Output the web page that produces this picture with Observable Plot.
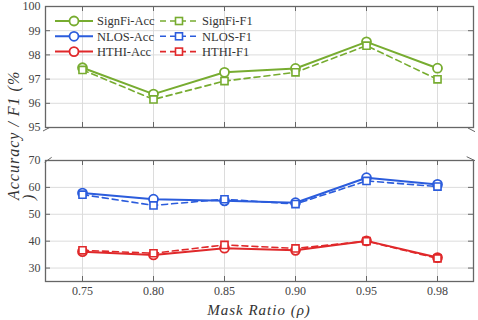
<!DOCTYPE html>
<html><head><meta charset="utf-8">
<script src="https://cdn.jsdelivr.net/npm/d3@7"></script>
<script src="https://cdn.jsdelivr.net/npm/@observablehq/plot@0.6"></script>
<style>
body{margin:0;background:#fff;}
#chart{position:relative;width:478px;height:320px;font-family:"Liberation Serif","DejaVu Serif",serif;}
#chart svg{display:block;}
#chart text{font-family:"Liberation Serif","DejaVu Serif",serif;}
#overlay{position:absolute;left:0;top:0;pointer-events:none;}
</style></head><body><div id="chart"></div>
<script>
const ratios = ["0.75","0.80","0.85","0.90","0.95","0.98"];
const signfiAcc = [97.47,96.38,97.28,97.44,98.54,97.45];
const signfiF1  = [97.38,96.16,96.92,97.28,98.38,96.99];
const nlosAcc   = [57.9,55.6,55.0,54.3,63.6,61.1];
const nlosF1    = [57.3,53.3,55.6,53.8,62.4,60.3];
const hthiAcc   = [36.1,34.9,37.4,36.6,40.1,33.9];
const hthiF1    = [36.6,35.5,38.6,37.3,40.0,33.6];
const groups = ["SignFi","NLOS","HTHI"];
const groupColors = ["#77AC30","#2B5CDC","#E0282A"];
const topTicks = [95,96,97,98,99,100];
const bottomTicks = [30,40,50,60,70];
const xLabel = "Mask Ratio (ρ)";
const yLabel = ["Accuracy / F1 (%", ")"];

const FONT = '"Liberation Serif", "DejaVu Serif", serif';
const color = Object.fromEntries(groups.map((g,i)=>[g,groupColors[i]]));
function rows(group, kind, vals){ return vals.map((v,i)=>({ratio:ratios[i], value:v, group, kind, series:group+"-"+kind})); }
const topData = [...rows("SignFi","Acc",signfiAcc), ...rows("SignFi","F1",signfiF1)];
const botData = [...rows("NLOS","Acc",nlosAcc), ...rows("NLOS","F1",nlosF1), ...rows("HTHI","Acc",hthiAcc), ...rows("HTHI","F1",hthiF1)];

const W = 478, ML = 45, MR = 5;
function panel({data, domain, ticks, height, marginTop, marginBottom, showX}) {
  const innerH = height - marginTop - marginBottom;
  const innerW = W - ML - MR;
  const acc = data.filter(d=>d.kind==="Acc"), f1 = data.filter(d=>d.kind==="F1");
  return Plot.plot({
    width: W, height, marginLeft: ML, marginRight: MR, marginTop, marginBottom,
    style:{fontFamily:FONT, fontSize:"12px", color:"#444", background:"white", overflow:"visible"},
    x:{type:"point", domain:ratios, padding:0.5, label:null, axis: showX ? "bottom" : null, tickSize:0, tickPadding:5},
    y:{domain, ticks, label:null, tickSize:0, tickPadding:5, tickFormat:d=>String(d)},
    marks:[
      Plot.ruleX(ratios, {x:d=>d, stroke:"#dcdcdc", strokeWidth:1}),
      Plot.ruleY(ticks, {y:d=>d, stroke:"#dcdcdc", strokeWidth:1}),
      Plot.tickY(ticks, {y:d=>d, insetRight: innerW-5, stroke:"#666", strokeWidth:1}),
      Plot.tickY(ticks, {y:d=>d, insetLeft: innerW-5, stroke:"#666", strokeWidth:1}),
      Plot.tickX(ratios, {x:d=>d, insetTop: innerH-5, stroke:"#666", strokeWidth:1}),
      Plot.tickX(ratios, {x:d=>d, insetBottom: innerH-5, stroke:"#666", strokeWidth:1}),
      Plot.frame({stroke:"#666", strokeWidth:1.3}),
      Plot.line(acc, {x:"ratio", y:"value", z:"series", stroke:d=>color[d.group], strokeWidth:2}),
      Plot.dot(acc, {x:"ratio", y:"value", symbol:"circle", r:4.5, fill:"white", stroke:d=>color[d.group], strokeWidth:1.8}),
      Plot.line(f1, {x:"ratio", y:"value", z:"series", stroke:d=>color[d.group], strokeWidth:1.6, strokeDasharray:"6,4"}),
      Plot.dot(f1, {x:"ratio", y:"value", symbol:"square", r:4, fill:"white", stroke:d=>color[d.group], strokeWidth:1.6})
    ]
  });
}
const chart = document.getElementById("chart");
const topH = 143, botH = 177;
chart.append(panel({data:topData, domain:[95,100], ticks:topTicks, height:topH, marginTop:6, marginBottom:16, showX:false}));
chart.append(panel({data:botData, domain:[25,70], ticks:bottomTicks, height:botH, marginTop:17, marginBottom:39, showX:true}));

// overlay: legend, axis titles, axis-break marks
const ov = d3.select(chart).append("svg").attr("id","overlay").attr("width",W).attr("height",320)
  .attr("font-family",FONT);
const legendItems = [];
groups.forEach((g,i)=>{ legendItems.push({g, kind:"Acc", row:i, col:0}); legendItems.push({g, kind:"F1", row:i, col:1}); });
legendItems.forEach(it=>{
  const x0 = it.col===0 ? 55 : 160, y = 21 + it.row*15.3;
  const gEl = ov.append("g");
  gEl.append("line").attr("x1",x0).attr("x2",x0+38).attr("y1",y).attr("y2",y)
    .attr("stroke",color[it.g]).attr("stroke-width",it.kind==="Acc"?2:1.6)
    .attr("stroke-dasharray",it.kind==="Acc"?null:"6,4");
  if (it.kind==="Acc") gEl.append("circle").attr("cx",x0+19).attr("cy",y).attr("r",4.5).attr("fill","white").attr("stroke",color[it.g]).attr("stroke-width",1.8);
  else gEl.append("rect").attr("x",x0+15.5).attr("y",y-3.5).attr("width",7).attr("height",7).attr("fill","white").attr("stroke",color[it.g]).attr("stroke-width",1.6);
  gEl.append("text").attr("x",x0+42).attr("y",y).attr("dy","0.35em").attr("font-size",12.5).attr("fill","#333").text(it.g+"-"+it.kind);
});
// x title
ov.append("text").attr("x",(ML+W-MR)/2).attr("y",315).attr("text-anchor","middle")
  .attr("font-size",15).attr("font-style","italic").attr("letter-spacing","1px").attr("fill","#333").text(xLabel);
// y title (wrapped as in reference)
const yt = ov.append("text").attr("transform","translate(19,200) rotate(-90)").attr("font-size",16)
  .attr("font-style","italic").attr("fill","#333").attr("letter-spacing","1px");
yt.append("tspan").attr("x",0).attr("y",0).text(yLabel[0]);
yt.append("tspan").attr("x",0).attr("dy",15).text(yLabel[1]);
// break marks
const breaks = [[43,131,50,127.3],[44.7,162.3,51.7,157.3],[468,128,475,131.7],[466.7,156.7,475,160.7]];
breaks.forEach(b=>ov.append("line").attr("x1",b[0]).attr("y1",b[1]).attr("x2",b[2]).attr("y2",b[3]).attr("stroke","#666").attr("stroke-width",1));
</script></body></html>
